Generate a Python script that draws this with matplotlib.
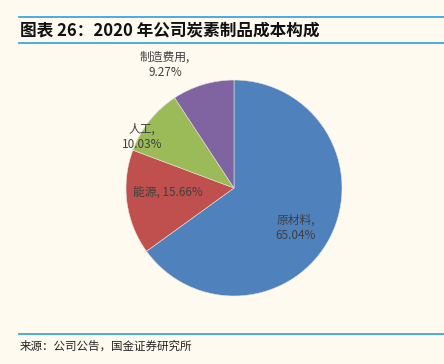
import matplotlib.pyplot as plt

plt.rcParams['font.family'] = ['Noto Sans CJK SC', 'DejaVu Sans']

# == dados ==
categorias = ['原材料', '能源', '人工', '制造费用']
valores = [65.04, 15.66, 10.03, 9.27]
cores = ['#4F81BD', '#C0504D', '#9BBB59', '#8064A2']
rotulos = ['原材料,\n65.04%', '能源, 15.66%', '人工,\n10.03%', '制造费用,\n9.27%']

# posição dos rótulos (em raio 1 da pizza)
pos_rotulos = [(0.57, -0.37), (-0.61, -0.04), (-0.85, 0.47), (-0.64, 1.14)]

fundo = '#FEFAF0'
azul_linha = '#3AA8E0'

fig = plt.figure(figsize=(4.44, 3.64), dpi=100, facecolor=fundo)

# linhas e título
fig.add_artist(plt.Line2D([19/444, 1], [1 - 17/364] * 2, color=azul_linha, lw=1.3))
fig.add_artist(plt.Line2D([19/444, 1], [1 - 43/364] * 2, color=azul_linha, lw=1.3))
fig.add_artist(plt.Line2D([19/444, 1], [1 - 334/364] * 2, color=azul_linha, lw=1.3))
fig.text(20/444, 1 - 30/364, '图表 26：2020 年公司炭素制品成本构成', fontsize=12,
         fontweight='bold', style='italic', va='center', ha='left', color='#111111')
fig.text(20/444, 1 - 346/364, '来源：公司公告，国金证券研究所', fontsize=8.3,
         va='center', ha='left', color='#222222')

# pizza
ax = fig.add_axes([0.2838, 0.1868, 0.4865, 0.5934])
ax.set_facecolor(fundo)
ax.pie(valores, colors=cores, startangle=90, counterclock=False,
       wedgeprops=dict(linewidth=0.4, edgecolor='#e8e4dc'))
for txt, (x, y) in zip(rotulos, pos_rotulos):
    ax.text(x, y, txt, ha='center', va='center', fontsize=8.5,
            color='#404040', linespacing=1.25)
ax.set_xlim(-1, 1)
ax.set_ylim(-1, 1)
ax.set_aspect('equal')
ax.axis('off')

fig.savefig('out.png', dpi=100, facecolor=fundo)
